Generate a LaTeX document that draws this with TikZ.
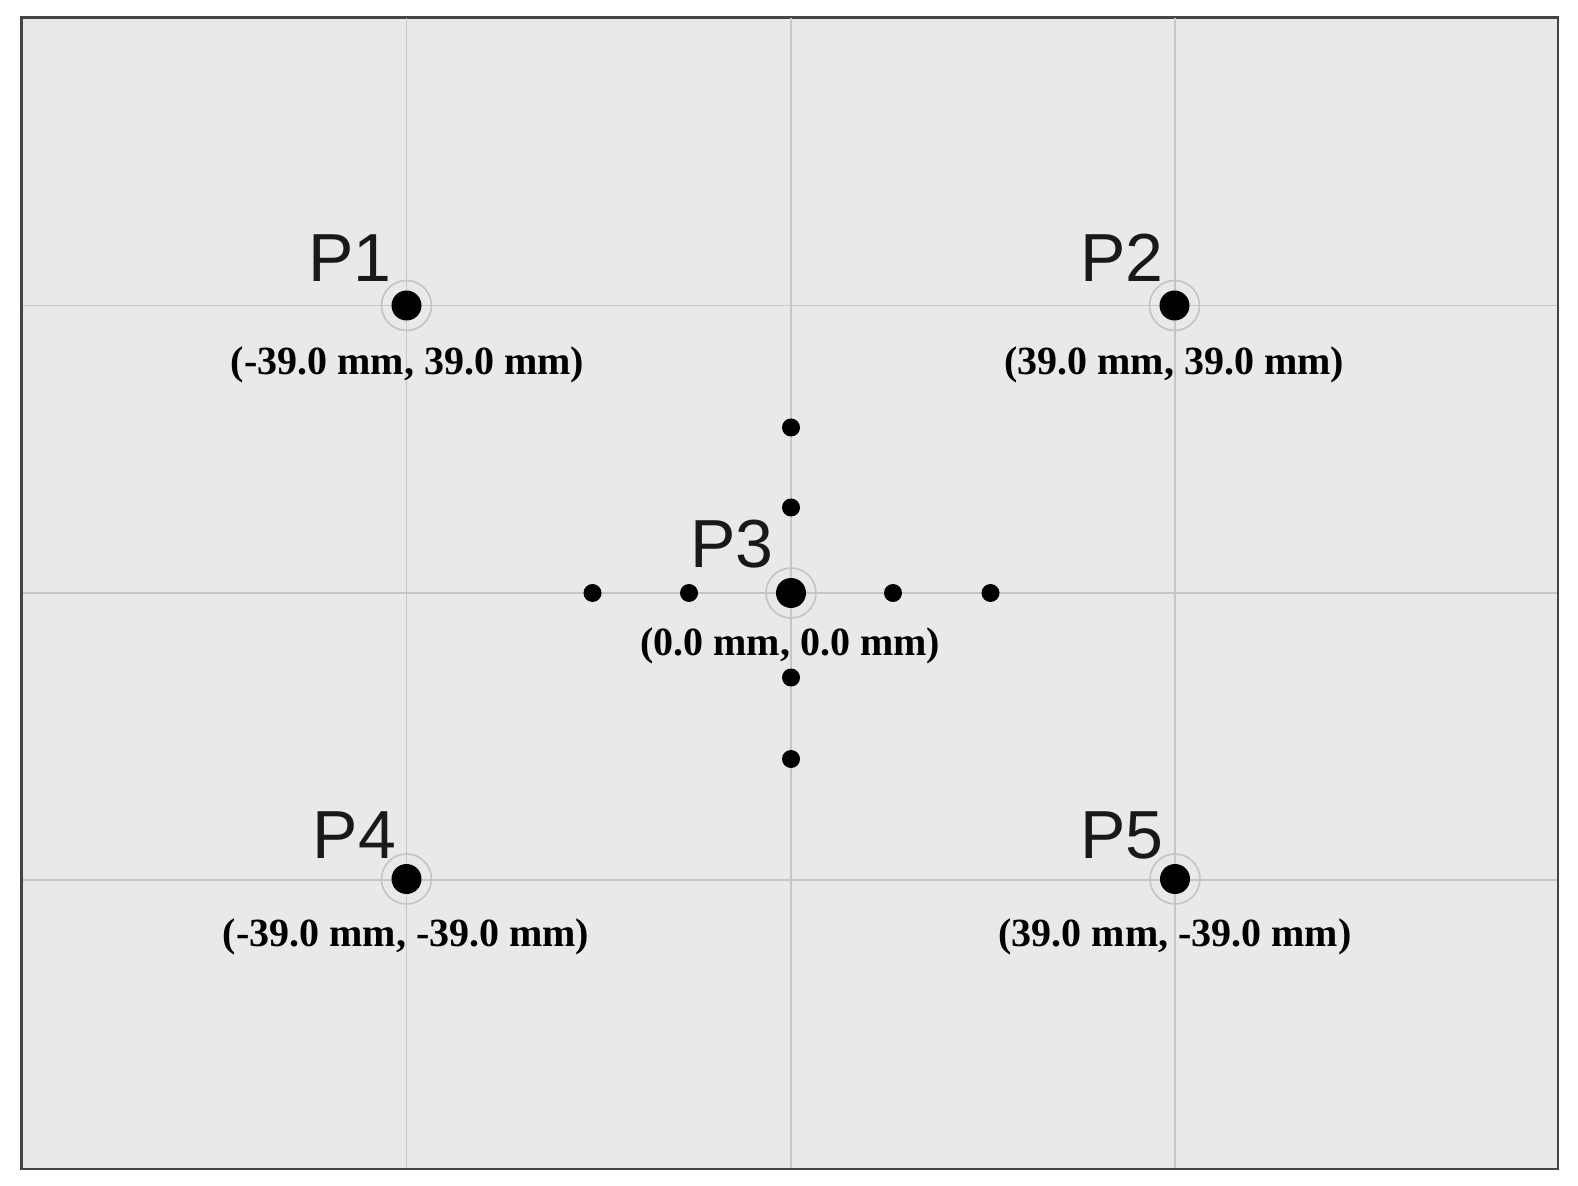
\documentclass[tikz,border=0pt]{standalone}
\usepackage{fontspec}
\setmainfont{Liberation Serif}
\newfontfamily\psans{Liberation Sans}
\definecolor{bgcol}{HTML}{E9E9E9}
\definecolor{gridcol}{HTML}{C6C6C6}
\definecolor{framecol}{HTML}{444444}
\definecolor{halocol}{HTML}{C4C4C4}
\begin{document}
\begin{tikzpicture}[x=0.5pt,y=-0.5pt,
  framebox/.style={draw=framecol,line width=1.3pt,fill=bgcol},
  gridline/.style={draw=gridcol,line width=0.9pt},
  bigdot/.style={circle,fill=black,inner sep=0pt,minimum size=15pt},
  smalldot/.style={circle,fill=black,inner sep=0pt,minimum size=9pt},
  halo/.style={draw=halocol,line width=0.8pt},
  plab/.style={anchor=base,inner sep=0pt,text=black!90,font=\psans\fontsize{34}{40}\selectfont},
  clab/.style={anchor=base,inner sep=0pt,font=\bfseries\fontsize{20}{24}\selectfont}]
\useasboundingbox (0,0) rectangle (1578,1186);
\fill[white] (0,0) rectangle (1578,1186);
\draw[framebox] (21.5,17.5) rectangle (1558,1169);
% grid
\draw[gridline] (406.5,18.5) -- (406.5,1168);
\draw[gridline] (791,18.5) -- (791,1168);
\draw[gridline] (1175,18.5) -- (1175,1168);
\draw[gridline] (22.5,305.5) -- (1557,305.5);
\draw[gridline] (22.5,593) -- (1557,593);
\draw[gridline] (22.5,880) -- (1557,880);
% main points
\node[bigdot] (p1) at (406.5,305.5) {};
\node[bigdot] (p2) at (1174.5,305.5) {};
\node[bigdot] (p3) at (791,593) {};
\node[bigdot] (p4) at (406.5,879) {};
\node[bigdot] (p5) at (1175,879) {};
\foreach \p in {p1,p2,p3,p4,p5}{\draw[halo] (\p.center) circle[radius=12.5pt];}
% small dots
\node[smalldot] (s1) at (791,427.5) {};
\node[smalldot] (s2) at (791,507.5) {};
\node[smalldot] (s3) at (791,677.5) {};
\node[smalldot] (s4) at (791,759) {};
\node[smalldot] (s5) at (592.5,593) {};
\node[smalldot] (s6) at (689,593) {};
\node[smalldot] (s7) at (893,593) {};
\node[smalldot] (s8) at (990.5,593) {};
% labels
\node[plab] (l1) at (350,282) {P1};
\node[plab] (l2) at (1122,282) {P2};
\node[plab] (l3) at (732,568) {P3};
\node[plab] (l4) at (354.5,858) {P4};
\node[plab] (l5) at (1122,858) {P5};
\node[clab] (c1) at (407.5,375) {(-39.0 mm, 39.0 mm)};
\node[clab] (c2) at (1174,375) {(39.0 mm, 39.0 mm)};
\node[clab] (c3) at (790,655) {(0.0 mm, 0.0 mm)};
\node[clab] (c4) at (406,946.5) {(-39.0 mm, -39.0 mm)};
\node[clab] (c5) at (1175,946.5) {(39.0 mm, -39.0 mm)};
\end{tikzpicture}
\end{document}
